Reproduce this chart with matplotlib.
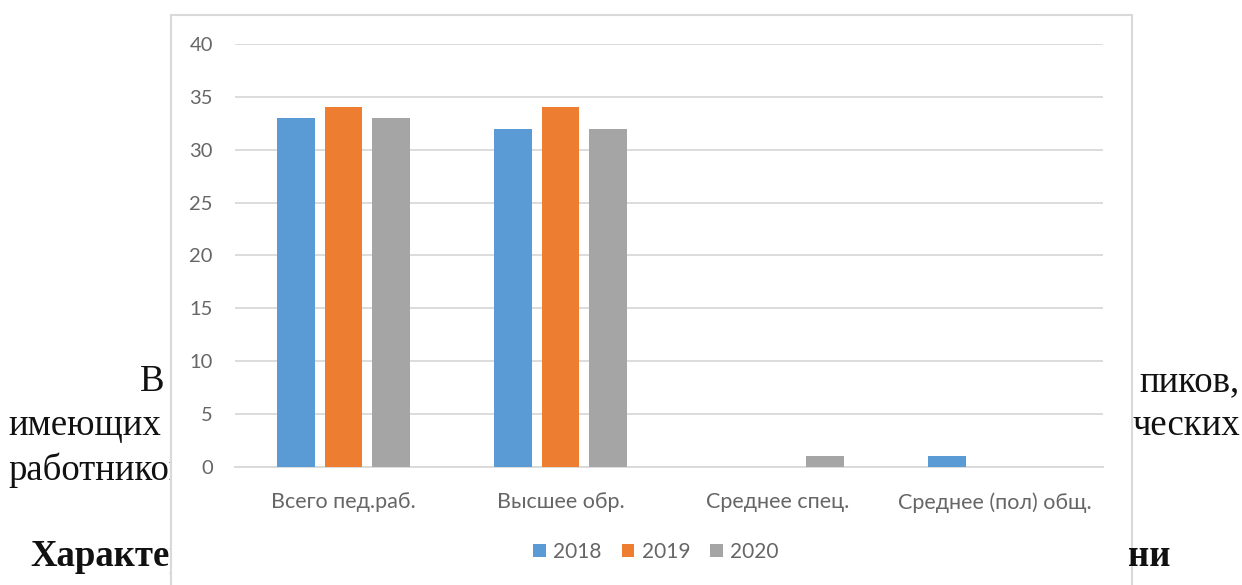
import matplotlib
matplotlib.use("Agg")
import matplotlib.pyplot as plt
import numpy as np
from matplotlib.patches import Rectangle

categories = ["Всего пед.раб.", "Высшее обр.", "Среднее спец.", "Среднее (пол) общ."]
years = ["2018", "2019", "2020"]
v2018 = [33, 32, 0, 1]
v2019 = [34, 34, 0, 0]
v2020 = [33, 32, 1, 0]
colors = ["#5B9BD5", "#ED7D31", "#A5A5A5"]
yticks = [0, 5, 10, 15, 20, 25, 30, 35, 40]

W, H = 1242, 585
fig = plt.figure(figsize=(12.42, 5.85), dpi=100)
fig.patch.set_facecolor("white")

# background document text
serif = ["Liberation Serif", "DejaVu Serif"]
def ftext(x, y, s, ha="left", bold=False, z=0.5):
    fig.text(x / W, 1 - y / H, s, ha=ha, va="center", fontsize=26.5,
             family=serif, fontweight="bold" if bold else "normal",
             color="#111111", zorder=z)

ftext(140, 382, "В")
ftext(1240, 382, "пиков,", ha="right")
ftext(8, 426, "имеющих")
ftext(1240, 426, "ческих", ha="right")
ftext(8, 470, "работников")
ftext(30, 557, "Характеристика", bold=True)
ftext(1128, 557, "ни", bold=True, z=1.5)

# chart box
box = Rectangle((171 / W, -0.05), (1132 - 171) / W, 1.05 - 15 / H,
                transform=fig.transFigure, facecolor="white",
                edgecolor="#d9d9d9", linewidth=1.5, zorder=1)
fig.patches.append(box)

ax = fig.add_axes([235 / W, 1 - 467 / H, (1103 - 235) / W, (467 - 44) / H], zorder=2)
ax.set_facecolor("none")
x = np.arange(len(categories))
bw = 0.175
off = 0.221
for i, (vals, c, lab) in enumerate(zip([v2018, v2019, v2020], colors, years)):
    ax.bar(x + (i - 1) * off, vals, width=bw, color=c, label=lab, zorder=3)

ax.set_xlim(-0.5, len(categories) - 0.5)
ax.set_ylim(0, 40)
ax.set_yticks(yticks)
ax.yaxis.grid(True, color="#d9d9d9", linewidth=1.3, zorder=0)
ax.set_axisbelow(True)
for s in ["top", "right", "left"]:
    ax.spines[s].set_visible(False)
ax.spines["bottom"].set_color("#d9d9d9")
ax.spines["bottom"].set_linewidth(1.3)
lab_color = "#666666"
ax.tick_params(axis="both", length=0, colors=lab_color, labelsize=14.5)
ax.tick_params(axis="y", pad=16)
ax.tick_params(axis="x", pad=18, labelsize=15.5)
ax.set_xticks(x)
ax.set_xticklabels(categories)
for t in ax.get_xticklabels() + ax.get_yticklabels():
    t.set_family(["Lato", "DejaVu Sans"])

leg = ax.legend(loc="center", bbox_to_anchor=(0.485, -0.2), ncol=3, frameon=False,
                handlelength=0.62, handleheight=0.62, handletextpad=0.35,
                columnspacing=0.95, prop={"family": ["Lato", "DejaVu Sans"], "size": 15})
for t in leg.get_texts():
    t.set_color(lab_color)

fig.savefig("out.png", dpi=100, facecolor="white")
